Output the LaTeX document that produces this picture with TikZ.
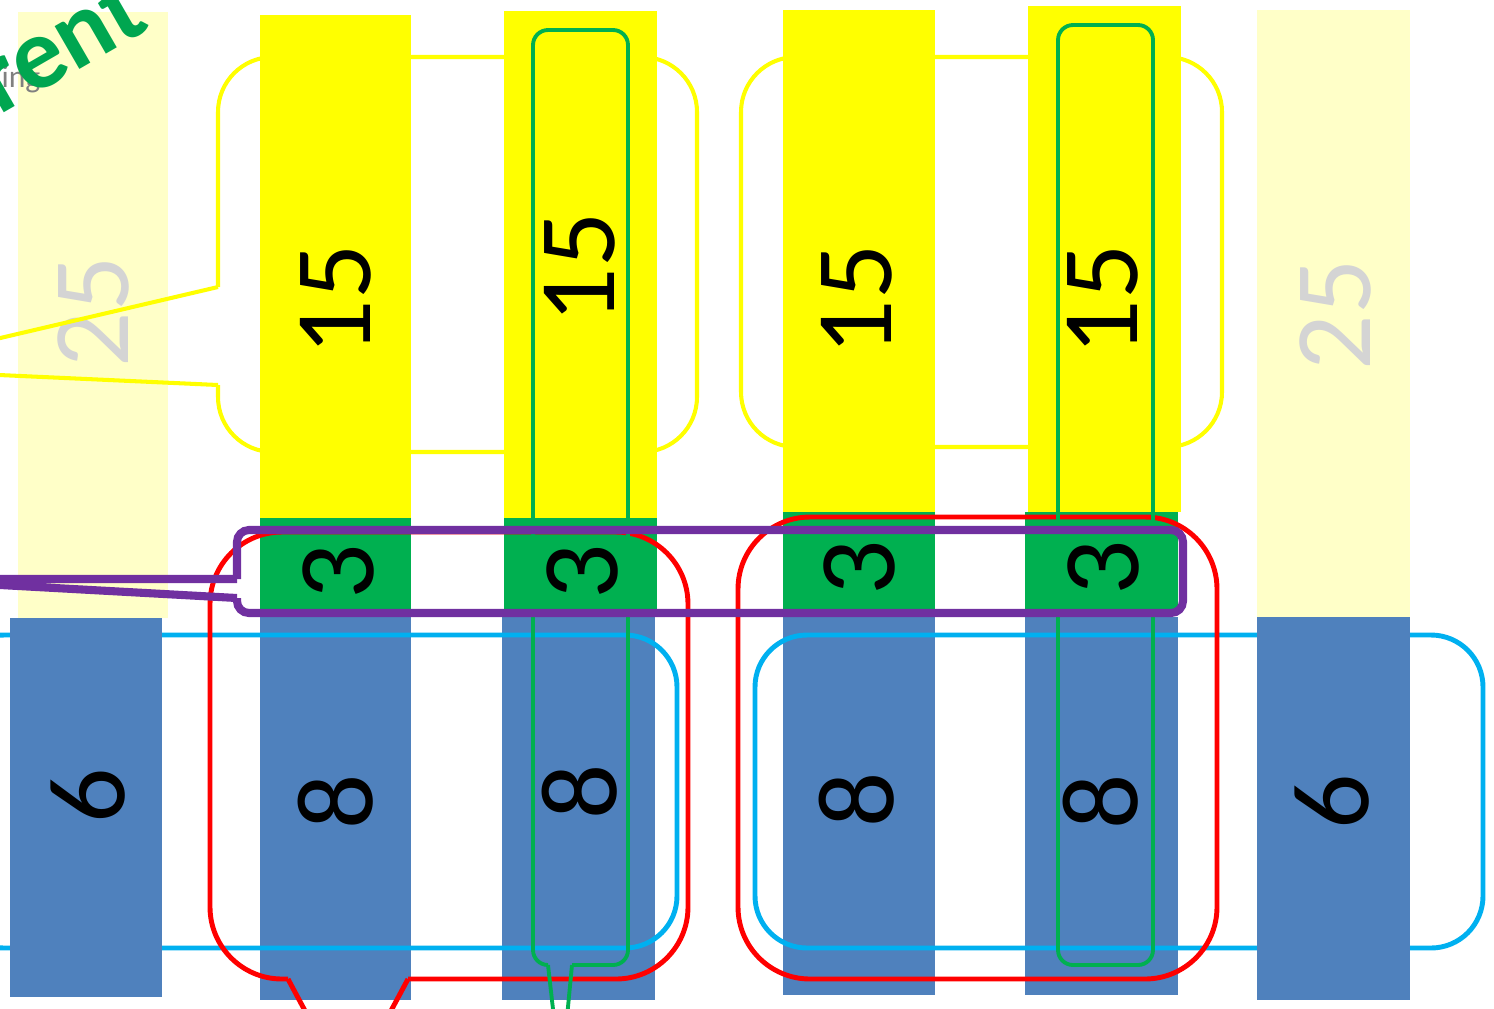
\documentclass[tikz,border=0pt]{standalone}
\usepackage{fontspec}
\setmainfont{Carlito}
\definecolor{barY}{HTML}{FFFF00}
\definecolor{barG}{HTML}{00B050}
\definecolor{barB}{HTML}{4F81BD}
\definecolor{paleY}{HTML}{FFFFC8}
\definecolor{lineC}{HTML}{00B0F0}
\definecolor{lineP}{HTML}{7030A0}
\definecolor{grey25}{HTML}{D4D4D4}
\definecolor{artG}{HTML}{00A650}

\begin{document}
\begin{tikzpicture}[x=0.01cm, y=-0.01cm,
  num/.style={rotate=90, font=\fontsize{31}{36}\selectfont},
  art/.style={rotate=30, font=\bfseries\fontsize{29}{30}\selectfont},
  ybox/.style={draw=barY, line width=1.15pt, rounded corners=0.55cm},
  ytail/.style={draw=barY, line width=1.15pt, line join=miter},
  rbox/.style={draw=red, line width=1.4pt, rounded corners=0.72cm},
  cbox/.style={draw=lineC, line width=1.4pt, rounded corners=0.52cm},
  gbox/.style={draw=barG, line width=1.1pt, rounded corners=0.15cm},
  pbox/.style={draw=lineP, line width=2.3pt, rounded corners=0.12cm}]
  \useasboundingbox (0,0) rectangle (1494,1008);

  % pale columns with the 25s
  \fill[paleY] (18,12) rectangle (168,618);
  \fill[paleY] (1257,10) rectangle (1410,617);
  \node[num, text=grey25] (p1) at (93,312) {25};
  \node[num, text=grey25] (p2) at (1335,315) {25};

  % title remains, top left
  \node[text=gray, font=\fontsize{9}{10}\selectfont] (ing) at (21,79) {ing};
  \node[art, text=artG, draw=lineC!30, line width=0pt, inner sep=0pt, draw opacity=0] (rent) at (60,44) {rent};

  % yellow callouts
  \draw[ybox] (218,287) -- (218,57) -- (697,57) -- (697,452) -- (218,452) -- (218,385);
  \draw[ytail] (218,287) -- (-132,369) -- (218,385);
  \draw[ybox] (741,57) rectangle (1222,447);

  % columns: 15 / 3 / 8
  \fill[barY] (260,15) rectangle (411,518);
  \fill[barY] (504,11) rectangle (657,518);
  \fill[barY] (783,10) rectangle (935,512);
  \fill[barY] (1028,6) rectangle (1181,512);
  \fill[barG] (260,518) rectangle (411,612);
  \fill[barG] (504,518) rectangle (657,612);
  \fill[barG] (783,512) rectangle (935,612);
  \fill[barG] (1025,512) rectangle (1178,612);
  \fill[barB] (260,617) rectangle (411,1000);
  \fill[barB] (502,617) rectangle (655,1000);
  \fill[barB] (783,617) rectangle (935,995);
  \fill[barB] (1025,617) rectangle (1178,995);

  % cyan frames
  \draw[cbox] (-48,635) rectangle (677,948);
  \draw[cbox] (755,635) rectangle (1483,948);

  % end columns: 6
  \fill[barB] (10,618) rectangle (162,997);
  \fill[barB] (1257,617) rectangle (1410,1000);

  % red callouts
  \draw[rbox] (408,979) -- (688,979) -- (688,532) -- (210,532) -- (210,979) -- (288,979);
  \draw[red, line width=1.4pt] (288,979) -- (348,1091) -- (408,979);
  \draw[rbox] (738,517) rectangle (1217,979);

  % green frames
  \draw[gbox] (548,965) -- (533,965) -- (533,30) -- (628,30) -- (628,965) -- (572,965);
  \draw[barG, line width=1.1pt] (548,965) -- (561,1080) -- (572,965);
  \draw[gbox] (1058,25) rectangle (1153,965);

  % numbers
  \node[num] (a15) at (336,300) {15};
  \node[num] (b15) at (580,268) {15};
  \node[num] (c15) at (857,300) {15};
  \node[num] (d15) at (1103,300) {15};
  \node[num] (a3) at (338,572) {3};
  \node[num] (b3) at (582,572) {3};
  \node[num] (c3) at (859,568) {3};
  \node[num] (d3) at (1103,568) {3};
  \node[num] (a8) at (336,802) {8};
  \node[num] (b8) at (580,792) {8};
  \node[num] (c8) at (857,800) {8};
  \node[num] (d8) at (1101,802) {8};
  \node[num] (a6) at (88,796) {6};
  \node[num] (b6) at (1332,802) {6};

  % purple callout
  \draw[pbox] (237,579) -- (237,530) -- (1183,530) -- (1183,613) -- (237,613) -- (237,598);
  \draw[lineP, line width=2.3pt, line join=round] (237,598) -- (-109,579) -- (237,579);
\end{tikzpicture}
\end{document}
